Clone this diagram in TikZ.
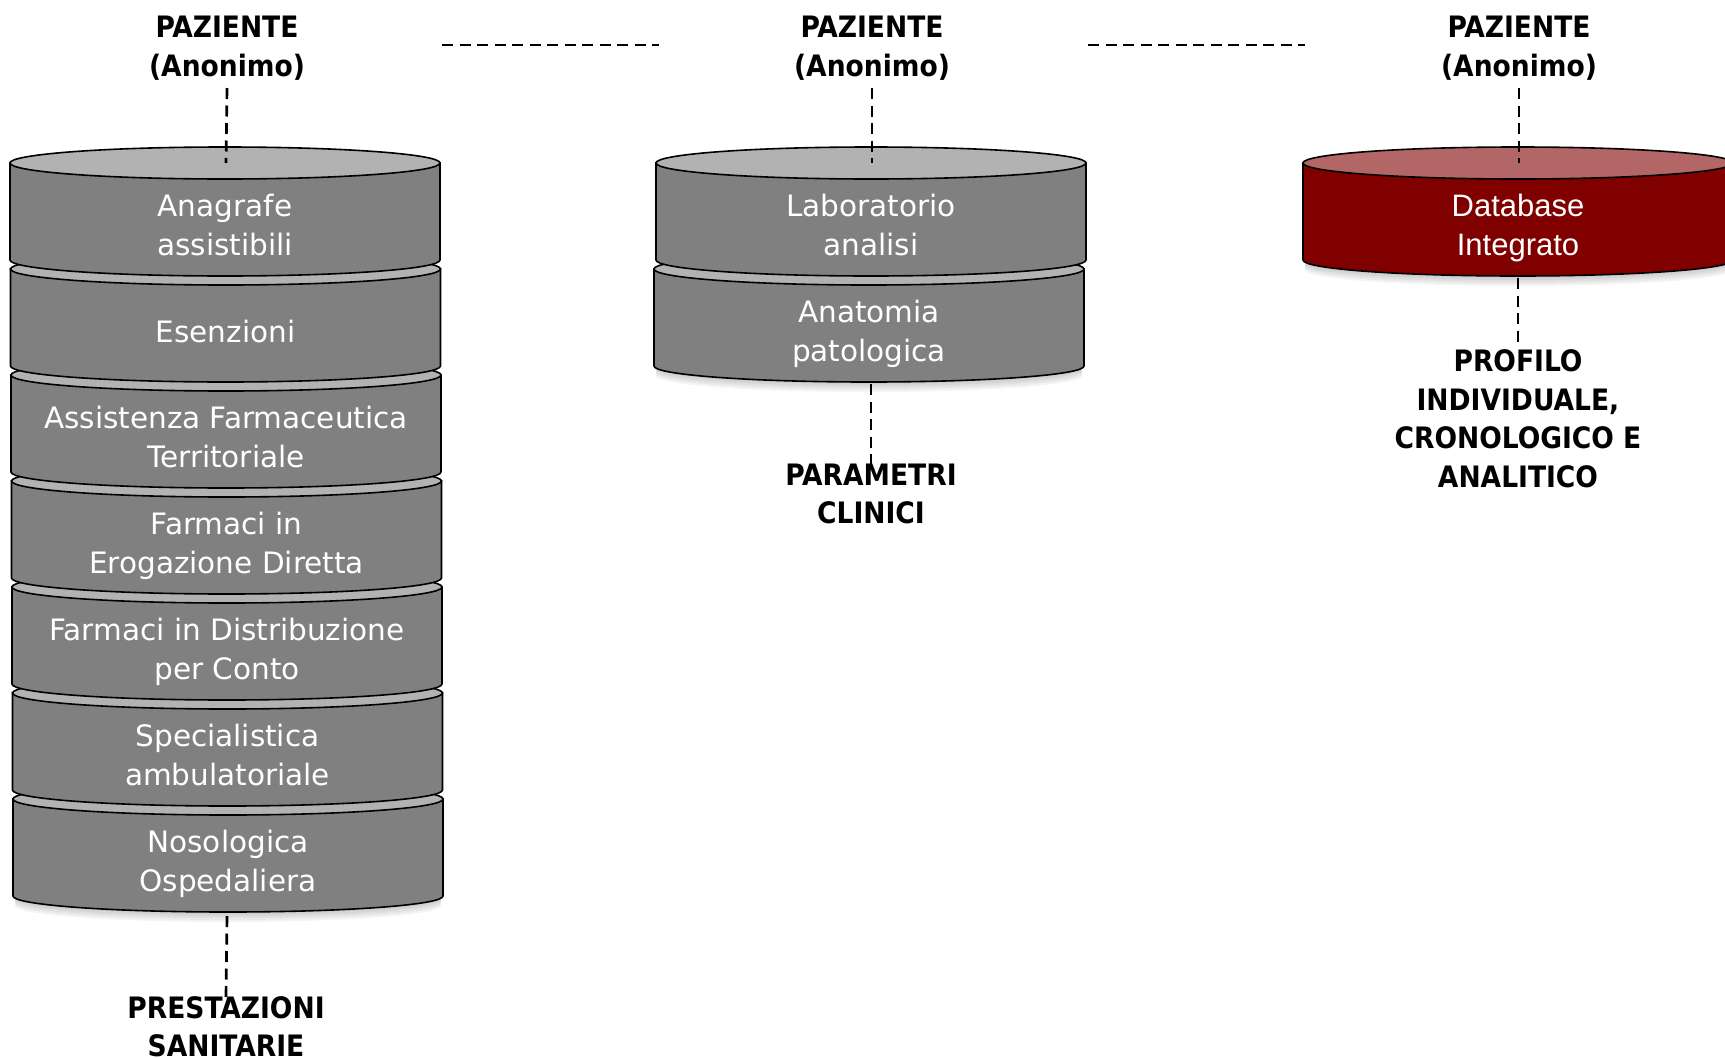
\documentclass[tikz,border=0pt]{standalone}
\usepackage{fontspec}
\setmainfont{DejaVu Sans}
\newfontfamily\lblfont{DejaVu Sans Condensed}
\newfontfamily\arialfont{Liberation Sans}
\definecolor{segbody}{RGB}{128,128,128}
\definecolor{segtop}{RGB}{178,178,178}
\definecolor{dbbody}{RGB}{128,0,0}
\definecolor{dbtop}{RGB}{178,102,102}
\tikzset{
  conn/.style={draw=black, line width=2.7pt, dash pattern=on 11pt off 6.5pt},
  blk/.style={font=\lblfont\bfseries\fontsize{29.5}{38.5}\selectfont, align=center, inner sep=0pt, text=black},
  wht/.style={font=\fontsize{29.5}{38.5}\selectfont, align=center, inner sep=0pt, text=white},
  dbtxt/.style={font=\arialfont\fontsize{31}{38.5}\selectfont, align=center, inner sep=0pt, text=white},
  segline/.style={draw=black, line width=1.6pt},
}
% cx, top y, body colour, top colour
\newcommand\dbseg[4]{%
  \path[segline, fill=#3] (#1-215,#2) -- (#1-215,#2+97)
     arc[start angle=180, end angle=0, x radius=215, y radius=16] -- (#1+215,#2) -- cycle;
  \path[segline, fill=#4] (#1,#2) ellipse[x radius=215, y radius=16];
}
\newcommand\dbshadow[2]{%
  \foreach \k in {2,4,6,8,10}{%
    \fill[black, opacity=0.045] (#1-213,#2+\k) -- (#1-213,#2+97+\k)
      arc[start angle=180, end angle=0, x radius=213, y radius=16] -- (#1+213,#2+\k) -- cycle;
  }%
}
\begin{document}
\begin{tikzpicture}[x=1pt,y=-1pt]
\useasboundingbox (0,0) rectangle (1725,1058);

% ---- left stack (bottom first) ----
\dbshadow{228}{799}
\dbseg{228}{799}{segbody}{segtop}
\dbseg{227.5}{693}{segbody}{segtop}
\dbseg{227}{587}{segbody}{segtop}
\dbseg{226.5}{481}{segbody}{segtop}
\dbseg{226}{375}{segbody}{segtop}
\dbseg{225.5}{269}{segbody}{segtop}
\dbseg{225}{163}{segbody}{segtop}

\node[wht] (s1) at (225,228.3) {Anagrafe\strut\\assistibili\strut};
\node[wht] (s2) at (225.5,334.3) {Esenzioni\strut};
\node[wht] (s3) at (226,440.3) {Assistenza Farmaceutica\strut\\Territoriale\strut};
\node[wht] (s4) at (226.5,546.3) {Farmaci in\strut\\Erogazione Diretta\strut};
\node[wht] (s5) at (227,652.3) {Farmaci in Distribuzione\strut\\per Conto\strut};
\node[wht] (s6) at (227.5,758.3) {Specialistica\strut\\ambulatoriale\strut};
\node[wht] (s7) at (228,864.3) {Nosologica\strut\\Ospedaliera\strut};

% ---- centre stack ----
\dbshadow{869}{269}
\dbseg{869}{269}{segbody}{segtop}
\dbseg{871}{163}{segbody}{segtop}
\node[wht] (c1) at (871,228.3) {Laboratorio\strut\\analisi\strut};
\node[wht] (c2) at (869,334.3) {Anatomia\strut\\patologica\strut};

% ---- right database ----
\dbshadow{1518}{163}
\dbseg{1518}{163}{dbbody}{dbtop}
\node[dbtxt] (d1) at (1518,228.3) {Database\strut\\Integrato\strut};

% ---- labels ----
\node[blk] (p1) at (227,49.3) {PAZIENTE\strut\\(Anonimo)\strut};
\node[blk] (p2) at (872,49.3) {PAZIENTE\strut\\(Anonimo)\strut};
\node[blk] (p3) at (1519,49.3) {PAZIENTE\strut\\(Anonimo)\strut};
\node[blk] (ps) at (226,1030) {PRESTAZIONI\strut\\SANITARIE\strut};
\node[blk] (pm) at (871,497) {PARAMETRI\strut\\CLINICI\strut};
\node[blk] (pr) at (1518,422) {PROFILO\strut\\INDIVIDUALE,\strut\\CRONOLOGICO E\strut\\ANALITICO\strut};

% ---- connectors ----
\coordinate (t1) at (226,163);
\coordinate (t2) at (872,163);
\coordinate (t3) at (1519,163);
\coordinate (b1) at (227,916);
\coordinate (b2) at (871,384);
\coordinate (b3) at (1518,278);
\coordinate (h1a) at (442,45);
\coordinate (h1b) at (659,45);
\coordinate (h2a) at (1088,45);
\coordinate (h2b) at (1305,45);

\draw[conn] (p1.south) -- (t1);
\draw[conn] (p2.south) -- (t2);
\draw[conn] (p3.south) -- (t3);
\draw[conn] (b1) -- ([yshift=-6pt]ps.north);
\draw[conn] (b2) -- ([yshift=-9pt]pm.north);
\draw[conn] (b3) -- (pr.north);
\draw[conn] (h1a) -- (h1b);
\draw[conn] (h2a) -- (h2b);
\end{tikzpicture}
\end{document}
